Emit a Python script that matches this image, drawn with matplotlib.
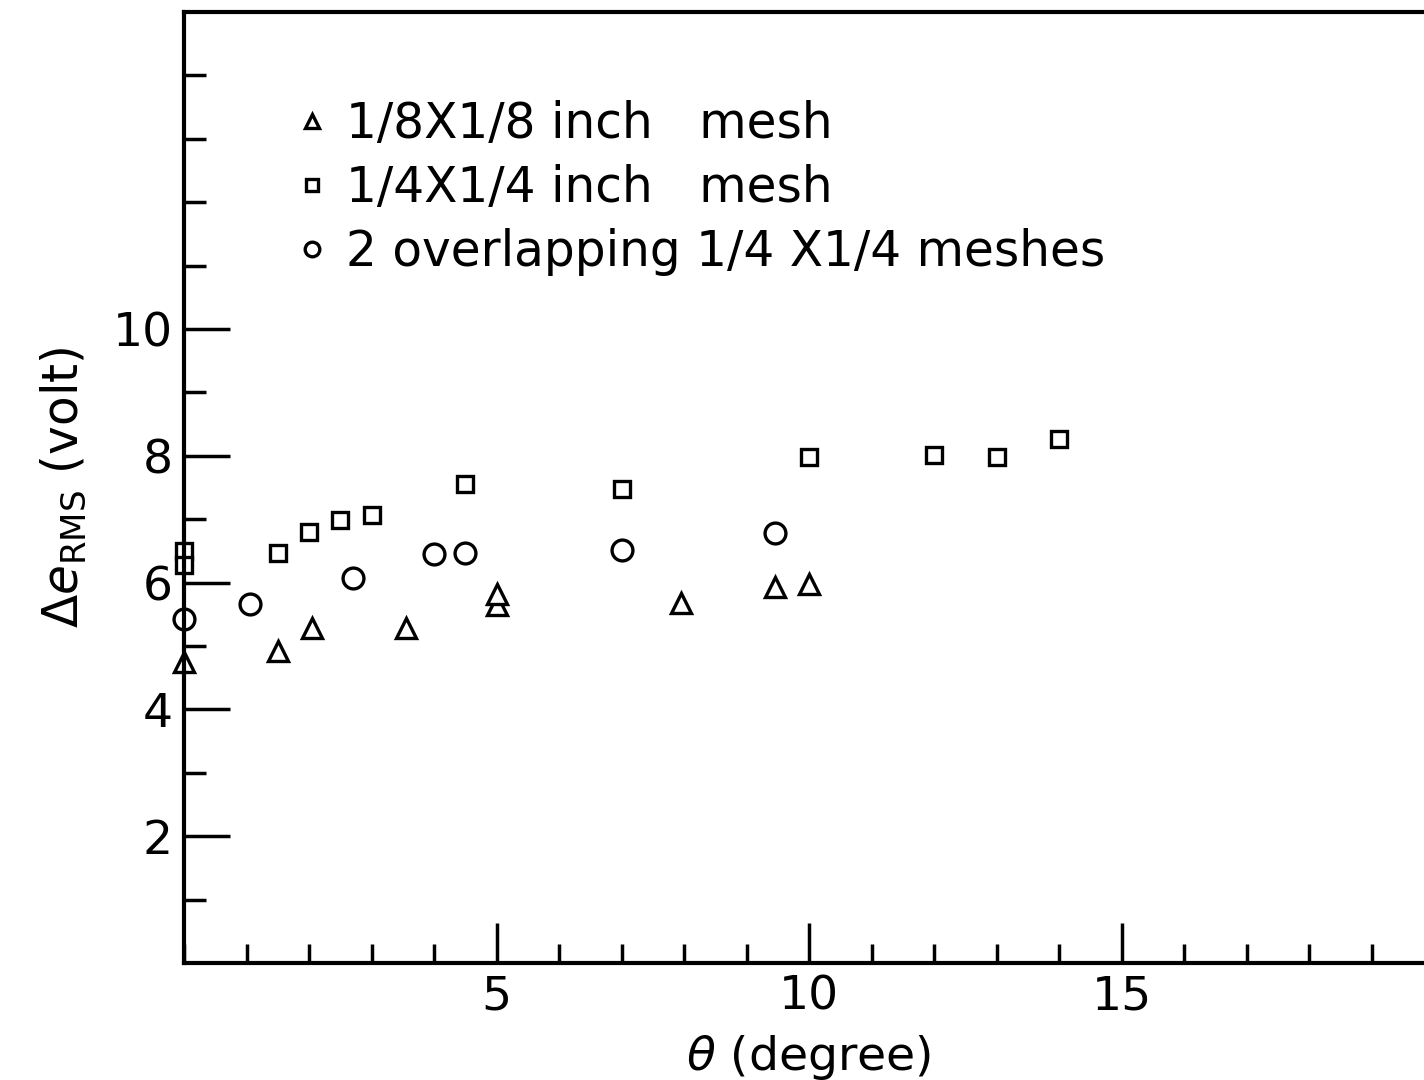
import matplotlib
matplotlib.use("Agg")
import matplotlib.pyplot as plt
from matplotlib.ticker import MultipleLocator

# 1/8 x 1/8 inch mesh (triangles)
tri_x = [0.0, 1.5, 2.05, 3.55, 5.0, 5.0, 7.95, 9.45, 10.0]
tri_y = [4.75, 4.92, 5.28, 5.28, 5.64, 5.82, 5.68, 5.93, 5.98]

# 1/4 x 1/4 inch mesh (squares)
sq_x = [0.0, 0.0, 1.5, 2.0, 2.5, 3.0, 4.5, 7.0, 10.0, 12.0, 13.0, 14.0]
sq_y = [6.5, 6.27, 6.46, 6.8, 6.98, 7.07, 7.56, 7.48, 7.98, 8.02, 7.98, 8.27]

# 2 overlapping 1/4 x 1/4 meshes (circles)
circ_x = [0.0, 1.05, 2.7, 4.0, 4.5, 7.0, 9.45]
circ_y = [5.42, 5.67, 6.08, 6.45, 6.46, 6.51, 6.78]

labels = ["1/8X1/8 inch   mesh", "1/4X1/4 inch   mesh", "2 overlapping 1/4 X1/4 meshes"]

plt.rcParams['font.family'] = 'DejaVu Sans'
plt.rcParams['mathtext.fontset'] = 'dejavusans'

fig = plt.figure(figsize=(14.24, 10.8), dpi=100)
ax = fig.add_axes([184 / 1424, 1 - 963 / 1080, 1250 / 1424, 951 / 1080])

mk = dict(linestyle='none', mfc='white', mec='black', mew=2.4, clip_on=False)
ax.plot(tri_x, tri_y, marker='^', ms=15, **mk, label=labels[0])
ax.plot(sq_x, sq_y, marker='s', ms=12, **mk, label=labels[1])
ax.plot(circ_x, circ_y, marker='o', ms=15, **mk, label=labels[2])

ax.set_xlim(0, 20)
ax.set_ylim(0, 15)
ax.xaxis.set_major_locator(MultipleLocator(5))
ax.xaxis.set_minor_locator(MultipleLocator(1))
ax.set_xticks([5, 10, 15])
ax.set_yticks([2, 4, 6, 8, 10])
ax.set_yticks([1, 3, 5, 7, 9, 11, 12, 13, 14], minor=True)

ax.tick_params(which='major', axis='x', direction='in', length=29, width=2.5, labelsize=34, pad=8)
ax.tick_params(which='minor', axis='x', direction='in', length=14, width=2.5)
ax.tick_params(which='major', axis='y', direction='in', length=33, width=2.5, labelsize=34, pad=8)
ax.tick_params(which='minor', axis='y', direction='in', length=16, width=2.5)
ax.tick_params(top=False, right=False, which='both')

for s in ax.spines.values():
    s.set_linewidth(3)

ax.set_xlabel(r'$\theta$ (degree)', fontsize=34, labelpad=10)
ax.set_ylabel(r'$\Delta e_{\mathrm{RMS}}$ (volt)', fontsize=35, labelpad=18)

leg = ax.legend(loc='upper left', bbox_to_anchor=(0.077, 0.9275), frameon=False,
                fontsize=35, markerscale=0.7, handlelength=0.5, handletextpad=0.45,
                labelspacing=0.33, borderaxespad=0)

fig.savefig('out.png', dpi=100)
